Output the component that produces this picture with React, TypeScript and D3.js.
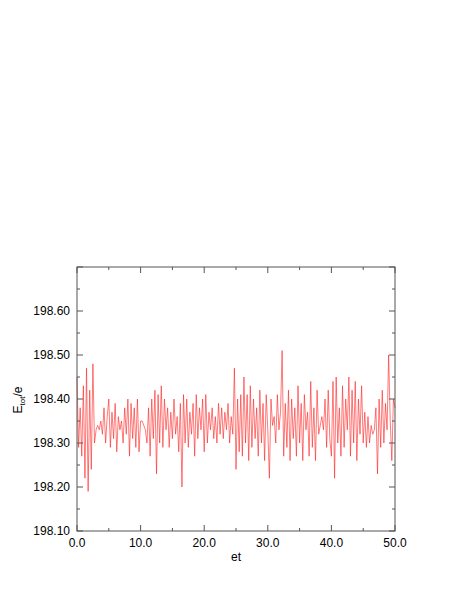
import React from "react";
import * as d3 from "d3";

const xTicks = [0, 10, 20, 30, 40, 50];
const yTicks = [198.1, 198.2, 198.3, 198.4, 198.5, 198.6];
const dt = 0.25;
const energy = [
  198.45, 198.29, 198.38, 198.27,
  198.43, 198.22, 198.47, 198.19,
  198.42, 198.24, 198.48, 198.30,
  198.33, 198.34, 198.33, 198.35,
  198.32, 198.38, 198.30, 198.36,
  198.40, 198.29, 198.37, 198.31,
  198.39, 198.28, 198.36, 198.33,
  198.35, 198.30, 198.38, 198.32,
  198.40, 198.27, 198.39, 198.31,
  198.38, 198.29, 198.40, 198.28,
  198.35, 198.35, 198.34, 198.33,
  198.30, 198.38, 198.27, 198.40,
  198.31, 198.42, 198.23, 198.41,
  198.30, 198.43, 198.29, 198.40,
  198.33, 198.38, 198.29, 198.37,
  198.31, 198.40, 198.32, 198.36,
  198.28, 198.39, 198.20, 198.41,
  198.30, 198.40, 198.29, 198.37,
  198.32, 198.39, 198.27, 198.41,
  198.31, 198.38, 198.33, 198.40,
  198.28, 198.41, 198.30, 198.37,
  198.33, 198.38, 198.31, 198.36,
  198.30, 198.39, 198.32, 198.38,
  198.31, 198.37, 198.33, 198.39,
  198.30, 198.36, 198.32, 198.47,
  198.24, 198.40, 198.28, 198.41,
  198.27, 198.45, 198.30, 198.41,
  198.26, 198.43, 198.29, 198.40,
  198.31, 198.38, 198.27, 198.42,
  198.30, 198.39, 198.26, 198.41,
  198.33, 198.22, 198.40, 198.34,
  198.36, 198.30, 198.41, 198.33,
  198.37, 198.51, 198.27, 198.39,
  198.29, 198.42, 198.26, 198.40,
  198.31, 198.38, 198.27, 198.43,
  198.30, 198.39, 198.26, 198.41,
  198.33, 198.37, 198.27, 198.44,
  198.29, 198.38, 198.26, 198.42,
  198.32, 198.34, 198.36, 198.33,
  198.40, 198.29, 198.42, 198.31,
  198.27, 198.44, 198.22, 198.45,
  198.30, 198.38, 198.27, 198.43,
  198.29, 198.40, 198.33, 198.45,
  198.27, 198.42, 198.30, 198.44,
  198.26, 198.40, 198.32, 198.43,
  198.30, 198.37, 198.29, 198.36,
  198.30, 198.34, 198.32, 198.33,
  198.38, 198.23, 198.40, 198.29,
  198.42, 198.30, 198.39, 198.33,
  198.50, 198.35, 198.26, 198.40, 198.38,
];

export default function App() {
  const W = 463, H = 599;
  const L = 77, R = 395, T = 267, B = 531;
  const x = d3.scaleLinear().domain([0, 50]).range([L, R]);
  const y = d3.scaleLinear().domain([198.1, 198.7]).range([B, T]);
  const line = d3.line<number>().x((_, i) => x(i * dt)).y((d) => y(d));
  const xMinor = d3.range(0, 50.01, 5);
  const yMinor = d3.range(198.1, 198.701, 0.05);
  const axisColor = "#555";
  const font = "'Liberation Sans', Arial, Helvetica, sans-serif";
  return (
    <svg width={W} height={H} style={{ position: "absolute", left: 0, top: 0 }}>
      <rect x={0} y={0} width={W} height={H} fill="#fff" />
      <path d={line(energy) || ""} fill="none" stroke="#ff2020" strokeWidth={0.6} strokeLinejoin="round" />
      <rect x={L} y={T} width={R - L} height={B - T} fill="none" stroke={axisColor} strokeWidth={1} />
      {xMinor.map((t, i) => {
        const len = i % 2 === 0 ? 6 : 3;
        return (
          <g key={"xt" + i}>
            <line x1={x(t)} x2={x(t)} y1={B} y2={B - len} stroke={axisColor} />
            <line x1={x(t)} x2={x(t)} y1={T} y2={T + len} stroke={axisColor} />
          </g>
        );
      })}
      {yMinor.map((v, i) => {
        const len = i % 2 === 0 ? 6 : 3;
        return (
          <g key={"yt" + i}>
            <line x1={L} x2={L + len} y1={y(v)} y2={y(v)} stroke={axisColor} />
            <line x1={R} x2={R - len} y1={y(v)} y2={y(v)} stroke={axisColor} />
          </g>
        );
      })}
      {xTicks.map((t) => (
        <text key={"xl" + t} x={x(t)} y={B + 16} textAnchor="middle" fontFamily={font} fontSize={12} fill="#000">
          {t.toFixed(1)}
        </text>
      ))}
      {yTicks.map((v) => (
        <text key={"yl" + v} x={L - 7} y={y(v) + 4} textAnchor="end" fontFamily={font} fontSize={12} fill="#000">
          {v.toFixed(2)}
        </text>
      ))}
      <text x={(L + R) / 2} y={B + 30} textAnchor="middle" fontFamily={font} fontSize={12} fill="#000">et</text>
      <text transform={`translate(22, ${(T + B) / 2 + 1}) rotate(-90)`} textAnchor="middle" fontFamily={font} fontSize={12} fill="#000">
        E<tspan fontSize={8} dy={3}>tot</tspan><tspan dy={-3}>/e</tspan>
      </text>
    </svg>
  );
}
